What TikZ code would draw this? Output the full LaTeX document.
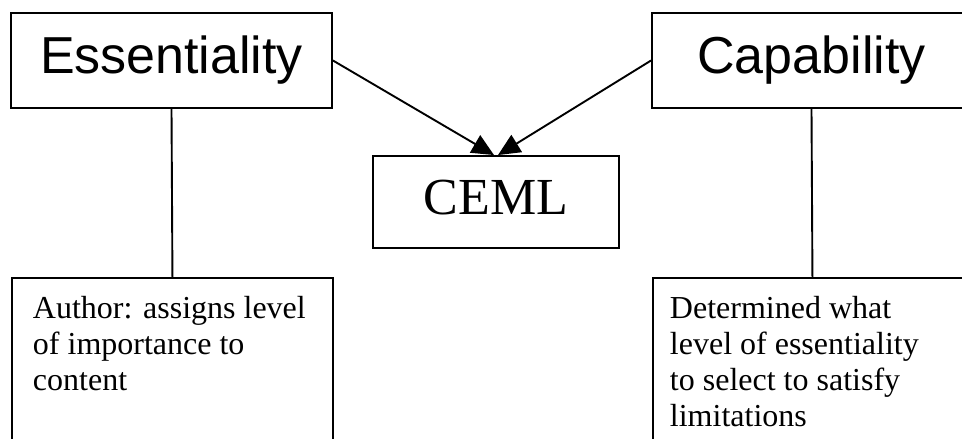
\documentclass[tikz,border=0pt]{standalone}
\usepackage{fontspec}
\setmainfont{Liberation Serif}
\newfontfamily\headsans{Liberation Sans}
\usetikzlibrary{arrows.meta}

\tikzset{
  box/.style={draw, rectangle, inner sep=0pt},
  headline/.style={font=\headsans\fontsize{52}{60}\selectfont},
  centretitle/.style={font=\fontsize{52}{60}\selectfont, text depth=10pt},
  bodytext/.style={font=\fontsize{32}{36}\selectfont, align=left, inner sep=0pt, anchor=north west},
  arrowlink/.style={-{Triangle[length=22pt,width=20pt]}}
}

\begin{document}
\begin{tikzpicture}[x=1pt, y=-1pt, line width=1.9pt]
  \useasboundingbox (0,0) rectangle (962,439);
  \clip (0,0) rectangle (962,439);

  % top boxes
  \node[box, headline, minimum width=321pt, minimum height=95pt] (ess) at (171.5,60.5) {Essentiality};
  \node[box, headline, minimum width=319pt, minimum height=95pt] (cap) at (811.5,60.5) {Capability};

  % central box
  \node[box, centretitle, minimum width=246pt, minimum height=92pt] (ceml) at (496,202) {CEML};

  % description boxes (run off the bottom edge)
  \node[box, minimum width=321pt, minimum height=220pt, anchor=north west] (authbox) at (11,277) {};
  \node[box, minimum width=319pt, minimum height=220pt, anchor=north west] (detbox) at (652,277) {};

  \node[bodytext] (authtext) at (32,295) {Author: assigns level\\of importance to\\content};
  \node[bodytext] (dettext) at (669,295) {Determined what\\level of essentiality\\to select to satisfy\\limitations};

  % connectors
  \draw (ess.south) -- (authbox.north);
  \draw (cap.south) -- (detbox.north);
  \draw[arrowlink] (ess.east) -- ([xshift=-2pt]ceml.north);
  \draw[arrowlink] (cap.west) -- ([xshift=2pt]ceml.north);
\end{tikzpicture}
\end{document}
